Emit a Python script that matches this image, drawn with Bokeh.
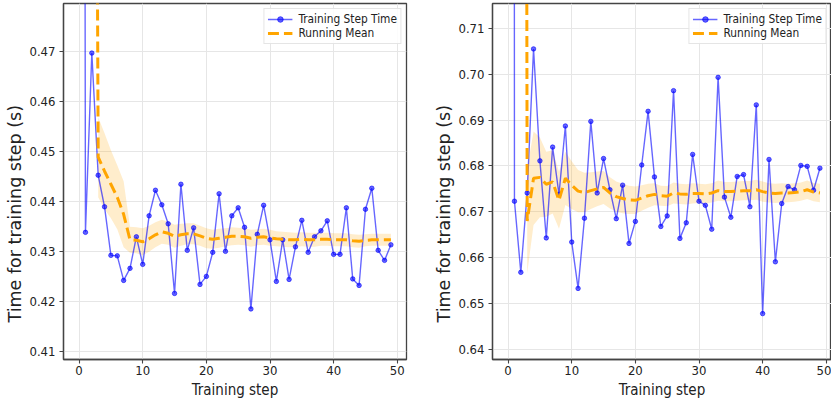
from bokeh.plotting import figure
from bokeh.layouts import row
from bokeh.models import FixedTicker, Range1d, Title
from bokeh.embed import file_html
from bokeh.resources import INLINE

# ---------------- data ----------------
steps = list(range(50))

left_times = [1.27, 0.4339, 0.4697, 0.4453, 0.4390, 0.4293, 0.4292, 0.4243, 0.4267, 0.4330,
              0.4275, 0.4372, 0.4423, 0.4394, 0.4356, 0.4217, 0.4435, 0.4303, 0.4348, 0.4235,
              0.4251, 0.4299, 0.4416, 0.4301, 0.4372, 0.4388, 0.4349, 0.4186, 0.4335, 0.4393,
              0.4324, 0.4241, 0.4324, 0.4245, 0.4310, 0.4363, 0.4299, 0.4330, 0.4342, 0.4362,
              0.4295, 0.4295, 0.4388, 0.4246, 0.4233, 0.4385, 0.4427, 0.4303, 0.4283, 0.4314]

right_times = [4.0, 0.6723, 0.6568, 0.6741, 0.7055, 0.6811, 0.6643, 0.6841, 0.6738, 0.6887,
               0.6634, 0.6533, 0.6686, 0.6897, 0.6741, 0.6816, 0.6748, 0.6685, 0.6758, 0.6631,
               0.6679, 0.6802, 0.6919, 0.6776, 0.6668, 0.6691, 0.6964, 0.6642, 0.6676, 0.6825,
               0.6723, 0.6714, 0.6662, 0.6993, 0.6732, 0.6688, 0.6777, 0.6781, 0.6711, 0.6933,
               0.6478, 0.6814, 0.6591, 0.6718, 0.6755, 0.6748, 0.6801, 0.6799, 0.6747, 0.6795]

mean_steps = list(range(2, 50))

left_mean = [0.75, 0.4489, 0.4461, 0.4435, 0.4409, 0.4375, 0.4324, 0.4323, 0.4320, 0.4326,
             0.4334, 0.4340, 0.4337, 0.4331, 0.4334, 0.4336, 0.4336, 0.4332, 0.4327, 0.4325,
             0.4327, 0.4329, 0.4331, 0.4331, 0.4330, 0.4327, 0.4329, 0.4330, 0.4328, 0.4326,
             0.4325, 0.4324, 0.4324, 0.4325, 0.4324, 0.4324, 0.4325, 0.4325, 0.4324, 0.4324,
             0.4324, 0.4322, 0.4321, 0.4323, 0.4324, 0.4324, 0.4324, 0.4324]

right_mean = [1.5, 0.6680, 0.6773, 0.6775, 0.6760, 0.6765, 0.6725, 0.6773, 0.6758, 0.6745,
              0.6742, 0.6746, 0.6750, 0.6753, 0.6741, 0.6733, 0.6729, 0.6726, 0.6725, 0.6730,
              0.6735, 0.6738, 0.6735, 0.6734, 0.6741, 0.6739, 0.6738, 0.6740, 0.6740, 0.6739,
              0.6741, 0.6746, 0.6744, 0.6744, 0.6745, 0.6746, 0.6746, 0.6748, 0.6744, 0.6741,
              0.6740, 0.6741, 0.6741, 0.6742, 0.6744, 0.6748, 0.6743, 0.6741]

band_steps = list(range(3, 50))

left_std = [0.0080, 0.0076, 0.0068, 0.0064, 0.0066, 0.0026, 0.0026, 0.0027, 0.0026, 0.0025,
            0.0024, 0.0023, 0.0023, 0.0022, 0.0021, 0.0021, 0.0020, 0.0020, 0.0019, 0.0019,
            0.0018, 0.0018, 0.0017, 0.0017, 0.0017, 0.0016, 0.0016, 0.0016, 0.0015, 0.0015,
            0.0015, 0.0014, 0.0014, 0.0014, 0.0014, 0.0013, 0.0013, 0.0013, 0.0013, 0.0013,
            0.0013, 0.0013, 0.0012, 0.0012, 0.0012, 0.0012, 0.0012]

right_std = [0.0114, 0.0102, 0.0087, 0.0071, 0.0069, 0.0062, 0.0058, 0.0052, 0.0046, 0.0043,
             0.0040, 0.0038, 0.0036, 0.0034, 0.0033, 0.0032, 0.0031, 0.0030, 0.0028, 0.0026,
             0.0024, 0.0022, 0.0022, 0.0023, 0.0022, 0.0022, 0.0022, 0.0021, 0.0021, 0.0021,
             0.0022, 0.0021, 0.0021, 0.0021, 0.0021, 0.0021, 0.0022, 0.0022, 0.0021, 0.0021,
             0.0021, 0.0020, 0.0020, 0.0020, 0.0020, 0.0020, 0.0020]

x_ticks = [0, 10, 20, 30, 40, 50]
left_y_ticks = [0.41, 0.42, 0.43, 0.44, 0.45, 0.46, 0.47]
left_y_labels = ["0.41", "0.42", "0.43", "0.44", "0.45", "0.46", "0.47"]
right_y_ticks = [0.64, 0.65, 0.66, 0.67, 0.68, 0.69, 0.70, 0.71]
right_y_labels = ["0.64", "0.65", "0.66", "0.67", "0.68", "0.69", "0.70", "0.71"]

SPINE = "#444444"
COND = "DejaVu Sans Condensed"


def make_fig(times, mean, std, y_range, yticks, ylabels, width, mbr, x_end):
    p = figure(width=width, height=402,
               x_range=Range1d(-2.45, x_end), y_range=Range1d(*y_range),
               output_backend="svg", toolbar_location=None,
               min_border_left=63, min_border_right=mbr,
               min_border_top=3, min_border_bottom=43)
    p.background_fill_color = "white"
    p.border_fill_color = "white"
    p.outline_line_color = SPINE
    p.outline_line_width = 1.3

    lo = [m - s for m, s in zip(mean[1:], std)]
    hi = [m + s for m, s in zip(mean[1:], std)]
    p.varea(x=band_steps, y1=lo, y2=hi, fill_color="orange", fill_alpha=0.2)

    p.line(steps, times, line_color="blue", line_alpha=0.6, line_width=1.4,
           legend_label="Training Step Time")
    p.scatter(steps, times, size=4.5, fill_color="blue", line_color="blue",
              fill_alpha=0.6, line_alpha=0.6, legend_label="Training Step Time")
    p.line(mean_steps, mean, line_color="orange", line_width=3, line_dash="11 5",
           legend_label="Running Mean")

    p.xaxis.ticker = FixedTicker(ticks=x_ticks)
    p.yaxis.ticker = FixedTicker(ticks=yticks)
    p.yaxis.major_label_overrides = dict(zip(yticks, ylabels))

    for ax in (p.xaxis[0], p.yaxis[0]):
        ax.axis_line_color = SPINE
        ax.axis_line_width = 1.3
        ax.major_tick_line_color = SPINE
        ax.major_tick_line_width = 1.1
        ax.major_tick_out = 4
        ax.major_tick_in = 0
        ax.minor_tick_line_color = None
        ax.major_label_text_font = COND
        ax.major_label_text_font_size = "13px"
        ax.major_label_text_color = "#222222"
        ax.axis_label_text_font_style = "normal"
        ax.axis_label_text_color = "#222222"

    p.xaxis.major_label_standoff = 2
    p.xaxis.axis_label = "Training step"
    p.xaxis.axis_label_text_font = COND
    p.xaxis.axis_label_text_font_size = "15px"
    p.xaxis.axis_label_standoff = 3

    p.yaxis.major_label_standoff = 4

    ylab = Title(text="Time for training step (s)", align="left", offset=37,
                 standoff=3, text_font="DejaVu Sans", text_font_size="17.5px",
                 text_font_style="normal", text_color="#222222")
    p.add_layout(ylab, "left")

    p.xgrid.grid_line_color = "#e6e6e6"
    p.ygrid.grid_line_color = "#e6e6e6"
    p.xgrid.grid_line_width = 1
    p.ygrid.grid_line_width = 1

    lg = p.legend[0]
    lg.location = "top_right"
    lg.margin = 5
    lg.padding = 3
    lg.spacing = 0
    lg.label_height = 14
    lg.glyph_height = 14
    lg.glyph_width = 25
    lg.label_standoff = 6
    lg.label_text_font = COND
    lg.label_text_font_size = "11.8px"
    lg.label_text_color = "#222222"
    lg.border_line_color = "#cccccc"
    lg.border_line_width = 1
    lg.background_fill_alpha = 0.85
    return p


left = make_fig(left_times, left_mean, left_std, (0.4085, 0.4796),
                left_y_ticks, left_y_labels, 429, 23, 51.45)
right = make_fig(right_times, right_mean, right_std, (0.6378, 0.7154),
                 right_y_ticks, right_y_labels, 402, 0, 50.82)

layout = row(left, right)
open("out.html", "w").write(file_html(layout, INLINE))
